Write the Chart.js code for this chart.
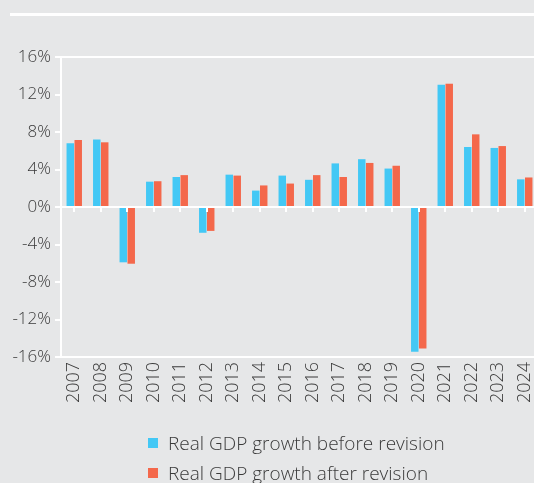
<!DOCTYPE html>
<html>
<head>
<meta charset="utf-8">
<script src="https://cdn.jsdelivr.net/npm/chart.js@4.4.1/dist/chart.umd.min.js"></script>
<style>
  html, body { margin: 0; padding: 0; background: #e6e7e8; overflow: hidden; }
  .wrap { position: relative; width: 534px; height: 483px; overflow: hidden; }
  .topline { position: absolute; left: 10px; right: 0; top: 13px; height: 3px; background: #ffffff; }
  canvas { position: absolute; left: 0; top: 0; }
  .legend { position: absolute; left: 148px; top: 428px; font-family: "Open Sans", sans-serif; font-weight: 300; font-size: 19px; color: #3a3a3a; }
  .legend div { display: flex; align-items: center; height: 30px; white-space: nowrap; }
  .legend span.box { width: 10px; height: 10px; margin-right: 10px; display: inline-block; }
</style>
</head>
<body>
<div class="wrap">
  <div class="topline"></div>
  <canvas id="gdpChart" width="540" height="483"></canvas>
  <div class="legend" id="legend"></div>
</div>
<script>
let years = ["2007", "2008", "2009", "2010", "2011", "2012", "2013", "2014", "2015",
             "2016", "2017", "2018", "2019", "2020", "2021", "2022", "2023", "2024"];
let beforeRevision = [6.8, 7.2, -5.9, 2.7, 3.2, -2.75, 3.45, 1.75, 3.35,
                      2.9, 4.65, 5.1, 4.1, -15.45, 13.05, 6.4, 6.3, 2.95];
let afterRevision = [7.15, 6.9, -6.05, 2.75, 3.4, -2.55, 3.35, 2.3, 2.5,
                     3.4, 3.2, 4.7, 4.4, -15.1, 13.15, 7.75, 6.5, 3.15];
let yTicks = [-16, -12, -8, -4, 0, 4, 8, 12, 16];

let seriesNames = ["Real GDP growth before revision", "Real GDP growth after revision"];
let seriesColors = ["#43c8f5", "#f4684b"];

// small white ticks sitting on the zero line, one per year
let zeroTicks = {
  id: "zeroTicks",
  afterDatasetsDraw(chart) {
    let x = chart.scales.x;
    let y0 = chart.scales.y.getPixelForValue(0);
    let c = chart.ctx;
    c.save();
    c.strokeStyle = "#ffffff";
    c.lineWidth = 2;
    for (let i = 0; i < years.length; i++) {
      let px = Math.round(x.getPixelForTick(i));
      c.beginPath();
      c.moveTo(px, y0);
      c.lineTo(px, y0 + 5);
      c.stroke();
    }
    c.restore();
  }
};

let ctx = document.getElementById("gdpChart").getContext("2d");
let gdpChart = new Chart(ctx, {
  type: "bar",
  data: {
    labels: years,
    datasets: [
      { label: seriesNames[0], data: beforeRevision, backgroundColor: seriesColors[0] },
      { label: seriesNames[1], data: afterRevision, backgroundColor: seriesColors[1] }
    ]
  },
  options: {
    responsive: false,
    animation: false,
    categoryPercentage: 0.6,
    barPercentage: 0.94,
    layout: { padding: { top: 57, right: 2, bottom: 0, left: 0 } },
    plugins: {
      legend: { display: false },
      tooltip: { enabled: false }
    },
    scales: {
      x: {
        afterFit: function(scale) {
          scale.height = 126;
          scale.paddingLeft = 0;
          scale.paddingRight = 0;
        },
        grid: { display: true, drawOnChartArea: false, drawTicks: false },
        border: { display: true, color: "#ffffff", width: 2 },
        ticks: {
          color: "#3a3a3a",
          maxRotation: 90,
          minRotation: 90,
          padding: 5,
          font: { family: "Open Sans, sans-serif", size: 18, weight: 300 }
        }
      },
      y: {
        min: -16,
        max: 16,
        afterFit: function(scale) { scale.width = 61; },
        afterBuildTicks: function(scale) { scale.ticks = yTicks.map(v => ({ value: v })); },
        grid: {
          color: function(c) { return (c.tick && (c.tick.value === 0 || c.tick.value === 16)) ? "#ffffff" : "rgba(0,0,0,0)"; },
          lineWidth: 2,
          tickColor: "#ffffff",
          tickLength: 6
        },
        border: { display: true, color: "#ffffff", width: 2 },
        ticks: {
          color: "#3a3a3a",
          padding: 4,
          font: { family: "Open Sans, sans-serif", size: 17, weight: 300 },
          callback: function(v) { return v + "%"; }
        }
      }
    }
  },
  plugins: [zeroTicks]
});

// legend built from the dataset names and colours
let legendDiv = document.getElementById("legend");
gdpChart.data.datasets.forEach(function(ds) {
  let row = document.createElement("div");
  let box = document.createElement("span");
  box.className = "box";
  box.style.background = ds.backgroundColor;
  row.appendChild(box);
  row.appendChild(document.createTextNode(ds.label));
  legendDiv.appendChild(row);
});
</script>
</body>
</html>
